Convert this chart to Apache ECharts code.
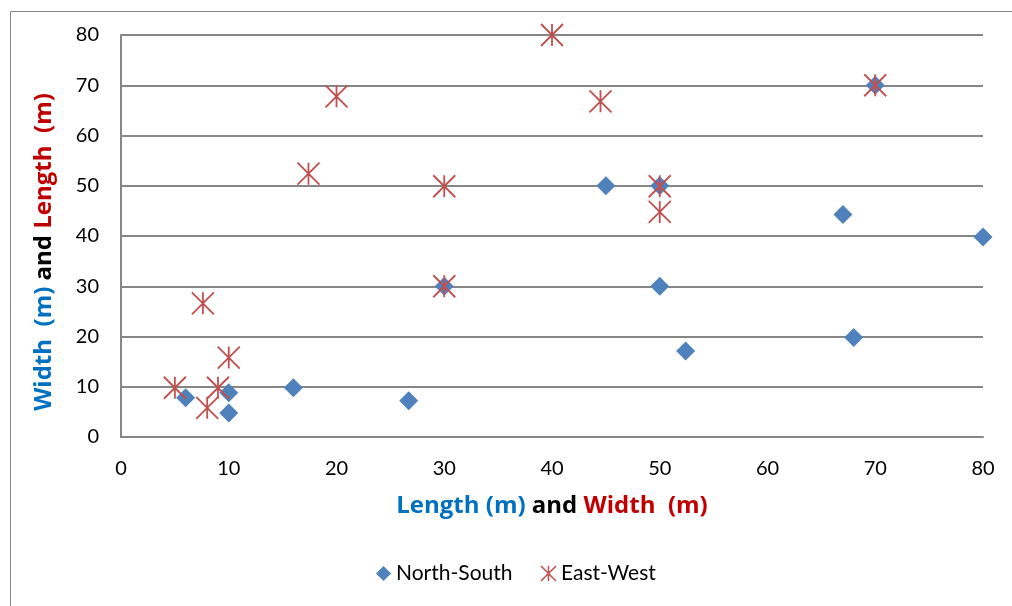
<!DOCTYPE html>
<html>
<head>
<meta charset="utf-8">
<script src="https://cdn.jsdelivr.net/npm/echarts@6/dist/echarts.min.js"></script>
<style>
html,body{margin:0;padding:0;background:#fff;}
#chart{width:1012px;height:606px;}
</style>
</head>
<body>
<div id="chart"></div>
<script>
// North-South: [length, width]
const northSouth = [
  [6, 7.8], [10, 8.8], [10, 4.8], [16, 9.8], [26.7, 7.2], [30, 30],
  [45, 50], [50, 50], [50, 30], [52.4, 17.1], [67, 44.3], [68, 19.8],
  [80, 39.8], [70, 70]
];
// East-West: [width, length]
const eastWest = [
  [5, 9.8], [7.6, 26.6], [10, 15.8], [9, 9.8], [8, 5.8], [17.4, 52.4],
  [20, 67.8], [30, 49.9], [30, 30], [40, 80], [44.5, 66.8], [50, 49.9],
  [50, 44.8], [70, 70]
];
const xTicks = [0, 10, 20, 30, 40, 50, 60, 70, 80];
const yTicks = [0, 10, 20, 30, 40, 50, 60, 70, 80];

const FONT = 'Lato';
const TFONT = 'Open Sans';
const TSIZE = 24;
const starPath = 'path://M0,0L20,20M20,0L0,20M10,0L10,20';

function richTitle(padding) {
  return {
    fontFamily: TFONT, fontSize: TSIZE, fontWeight: 'bold', padding: padding,
    rich: {
      b: {color: '#0070C0', fontSize: TSIZE, fontWeight: 'bold', fontFamily: TFONT},
      k: {color: '#000', fontSize: TSIZE, fontWeight: 'bold', fontFamily: TFONT},
      r: {color: '#C00000', fontSize: TSIZE, fontWeight: 'bold', fontFamily: TFONT}
    }
  };
}

const chart = echarts.init(document.getElementById('chart'), null, {renderer: 'canvas'});
chart.setOption({
  animation: false,
  backgroundColor: '#fff',
  textStyle: {fontFamily: FONT},
  graphic: [{
    type: 'rect', left: 8, top: 9, silent: true,
    shape: {width: 1020, height: 620},
    style: {fill: 'none', stroke: '#868686', lineWidth: 1}
  }],
  grid: {left: 121, right: 29, top: 35, bottom: 169, containLabel: false},
  xAxis: {
    type: 'value', min: xTicks[0], max: xTicks[xTicks.length - 1], interval: 10,
    axisLine: {show: true, lineStyle: {color: '#868686', width: 2}},
    axisTick: {show: false},
    splitLine: {show: false},
    axisLabel: {color: '#000', fontSize: 20, fontFamily: FONT, margin: 22},
    name: '{b|Length (m)} {k|and} {r|Width  (m)}',
    nameLocation: 'middle', nameGap: 57,
    nameTextStyle: richTitle(0)
  },
  yAxis: {
    type: 'value', min: yTicks[0], max: yTicks[yTicks.length - 1], interval: 10,
    axisLine: {show: true, lineStyle: {color: '#868686', width: 2}},
    axisTick: {show: false},
    splitLine: {show: true, lineStyle: {color: '#868686', width: 2}},
    axisLabel: {color: '#000', fontSize: 20, fontFamily: FONT, margin: 22},
    name: '{b|Width  (m)} {k|and} {r|Length  (m)}',
    nameLocation: 'middle', nameGap: 65, nameRotate: 90,
    nameTextStyle: richTitle([0, 32, 0, 0])
  },
  legend: {
    bottom: 17, left: 371, itemGap: 26, itemWidth: 15, itemHeight: 15,
    textStyle: {color: '#000', fontSize: 21, fontFamily: FONT},
    data: [
      {name: 'North-South', icon: 'diamond'},
      {name: 'East-West', icon: starPath, itemStyle: {color: 'none', borderColor: '#C0504D', borderWidth: 1.5}}
    ]
  },
  series: [
    {
      name: 'North-South', type: 'scatter', data: northSouth,
      symbol: 'diamond', symbolSize: 19,
      itemStyle: {color: '#4F81BD', opacity: 1}
    },
    {
      name: 'East-West', type: 'scatter', data: eastWest,
      symbol: starPath, symbolSize: 22,
      itemStyle: {color: 'none', borderColor: '#C0504D', borderWidth: 1.8, opacity: 1}
    }
  ]
});
</script>
</body>
</html>
